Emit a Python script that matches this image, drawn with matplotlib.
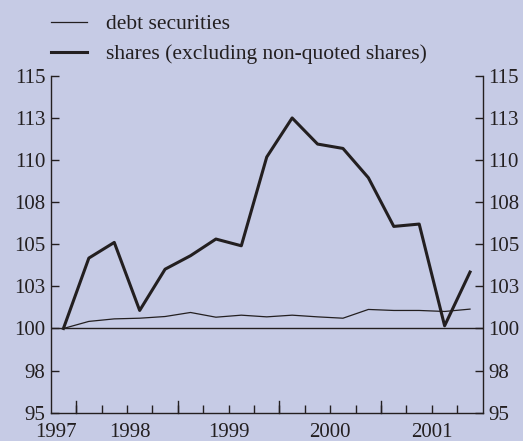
import numpy as np
import matplotlib
matplotlib.use('Agg')
from matplotlib import pyplot as plt

# quarterly index, first quarter 1997 = 100
debt = [100.0, 100.42, 100.57, 100.61, 100.71, 100.95, 100.67, 100.79, 100.69,
        100.79, 100.69, 100.61, 101.13, 101.07, 101.07, 101.01, 101.15]
shares = [100.0, 104.18, 105.11, 101.07, 103.52, 104.32, 105.31, 104.91, 110.18,
          112.5, 110.95, 110.69, 108.95, 106.06, 106.2, 100.16, 103.35]
years = ['1997', '1998', '1999', '2000', '2001']
year_pos = [-0.3, 2.6, 6.5, 10.5, 14.5]
yticks = [95, 97.5, 100, 102.5, 105, 107.5, 110, 112.5, 115]
ylabels = ['95', '98', '100', '103', '105', '108', '110', '113', '115']

bg = '#C6CBE5'
ink = '#231F20'
plt.rcParams['font.family'] = ['Liberation Serif', 'DejaVu Serif']

fig = plt.figure(figsize=(5.23, 4.41), dpi=100, facecolor=bg)
ax = fig.add_axes([0.097, 0.0642, 0.826, 0.7638], facecolor=bg)

x = np.arange(len(debt))
l1, = ax.plot(x, debt, color=ink, lw=0.9, label='debt securities')
l2, = ax.plot(x, shares, color=ink, lw=2.2, label='shares (excluding non-quoted shares)')
ax.axhline(100, color=ink, lw=1.0)

ax.set_xlim(-0.5, len(debt) - 0.5)
ax.set_ylim(95, 115)

ax.spines['top'].set_visible(False)
for s in ['left', 'right', 'bottom']:
    ax.spines[s].set_color(ink)
    ax.spines[s].set_linewidth(1.0)

ax.set_yticks(yticks)
ax.set_yticklabels(ylabels)
ax.tick_params(axis='y', direction='in', length=6, width=1.0, color=ink,
               labelsize=15, labelcolor=ink, left=True, right=True,
               labelleft=True, labelright=True)
ax.tick_params(axis='y', which='major', pad=4)

# quarter ticks along the bottom, longer ones every four quarters
qt = np.arange(0.5, len(debt) - 1, 1.0)
ax.set_xticks(qt)
ax.set_xticklabels([])
ax.tick_params(axis='x', direction='in', length=6, width=1.0, color=ink)
for i, t in enumerate(qt):
    if i % 4 == 0:
        ax.plot([t, t], [95, 95 + 12 / 16.83], color=ink, lw=1.0, clip_on=False)

for lab, p in zip(years, year_pos):
    ax.text(p, 94.4, lab, ha='center', va='top', fontsize=15, color=ink)

leg = ax.legend(handles=[l1, l2], loc='lower left', bbox_to_anchor=(0, 1.035),
                frameon=False, fontsize=15.5, handlelength=1.7,
                handletextpad=0.85, labelspacing=0.45, borderpad=0,
                borderaxespad=0)
for t in leg.get_texts():
    t.set_color(ink)

fig.savefig('out.png', dpi=100, facecolor=bg)
